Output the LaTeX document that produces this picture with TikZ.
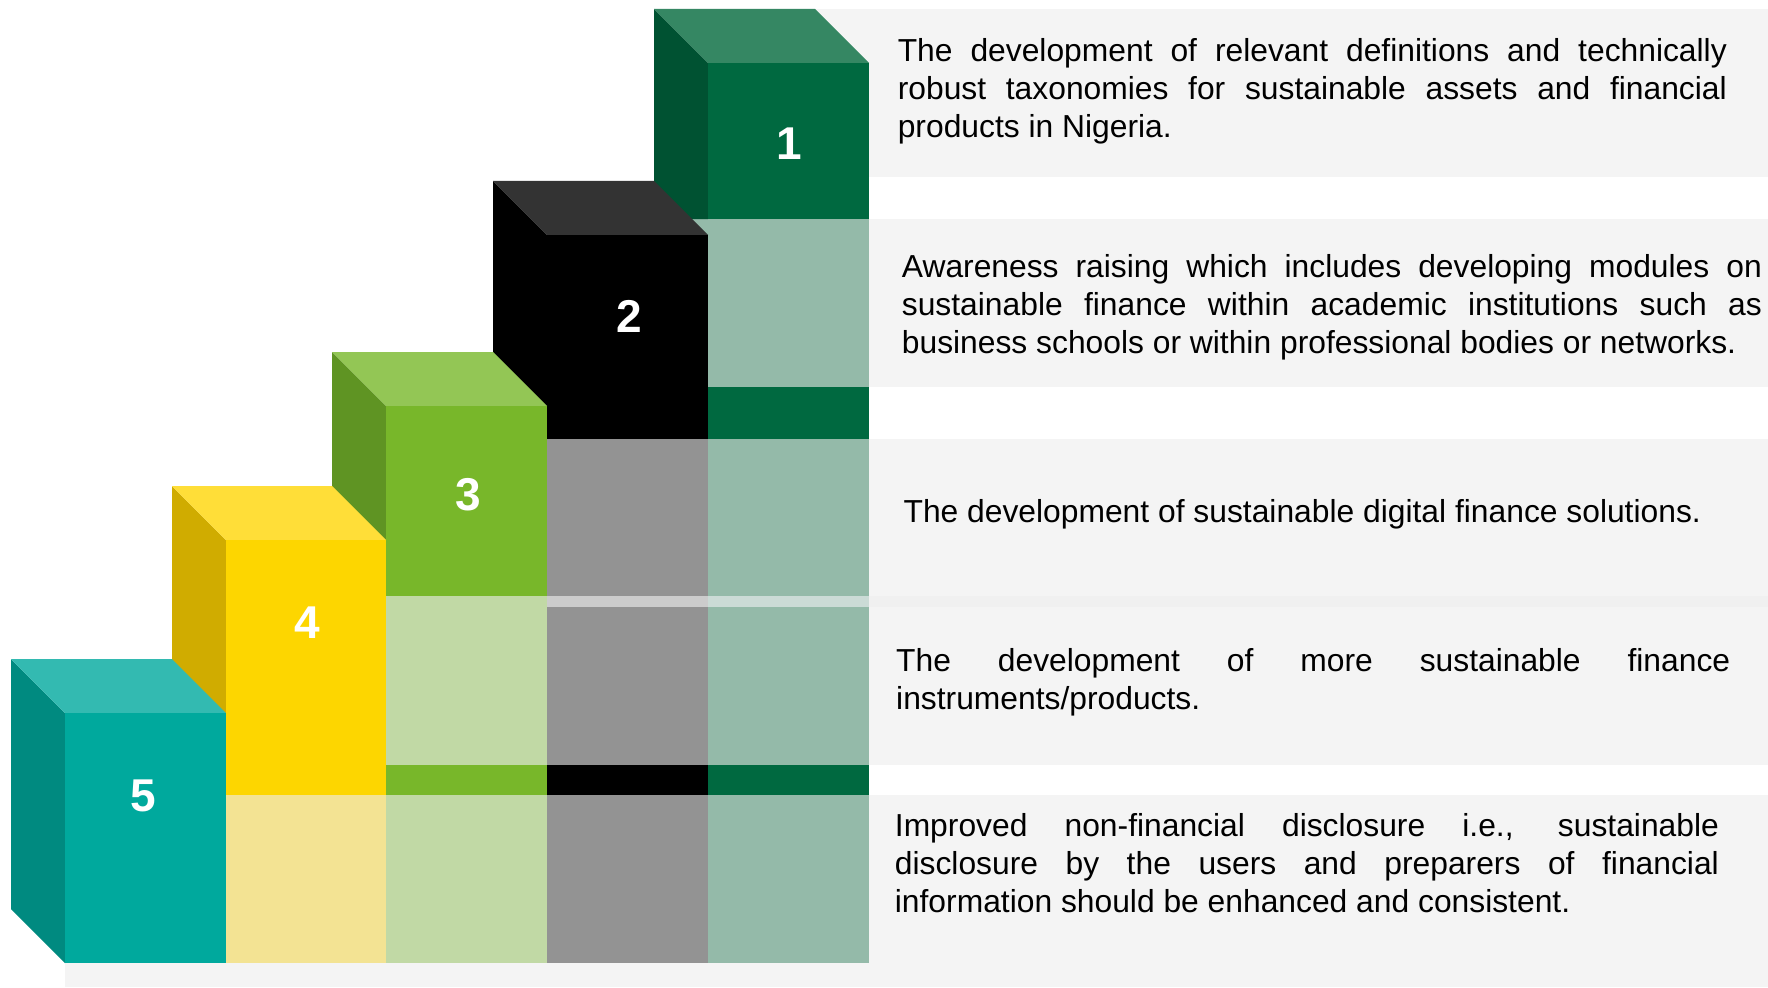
\documentclass[tikz,border=0pt]{standalone}
\usepackage{fontspec}
\setmainfont{Liberation Sans}

% face colours of the five steps
\definecolor{oneFront}{HTML}{006940}
\definecolor{oneTop}{HTML}{358763}
\definecolor{oneSide}{HTML}{005232}
\definecolor{oneLight}{HTML}{94BAA9}
\definecolor{oneBand}{HTML}{CBDBD6}
\definecolor{twoTop}{HTML}{333333}
\definecolor{twoLight}{HTML}{939393}
\definecolor{twoBand}{HTML}{CCCCCC}
\definecolor{threeFront}{HTML}{78B72A}
\definecolor{threeTop}{HTML}{93C655}
\definecolor{threeSide}{HTML}{5F9423}
\definecolor{threeLight}{HTML}{C1D9A5}
\definecolor{fourFront}{HTML}{FDD600}
\definecolor{fourTop}{HTML}{FFDE38}
\definecolor{fourSide}{HTML}{D0AC00}
\definecolor{fourLight}{HTML}{F3E393}
\definecolor{fiveFront}{HTML}{00A99D}
\definecolor{fiveTop}{HTML}{33BAB1}
\definecolor{fiveSide}{HTML}{008A80}
\definecolor{panelGrey}{HTML}{F4F4F4}
\definecolor{panelBand}{HTML}{F0F0F0}

\newcommand{\fullline}[1]{\makebox[\linewidth][s]{#1}\par}
\newcommand{\descfont}{\fontsize{31.8}{38}\selectfont}

\begin{document}
\begin{tikzpicture}[x=1pt,y=-1pt,
  face/.style={fill=#1,draw=none},
  num/.style={text=white,font=\fontsize{46}{46}\selectfont\bfseries,inner sep=0pt,anchor=center},
  desc/.style={inner sep=0pt,anchor=base west,text=black,font=\descfont},
]
\useasboundingbox (0,0) rectangle (1768,987);
\fill[white] (0,0) rectangle (1768,987);

% text panels
\fill[face=panelGrey] (700,9) rectangle (1768,177);
\fill[face=panelGrey] (869,219) rectangle (1768,387);
\fill[face=panelGrey] (869,439) rectangle (1768,765);
\fill[face=panelBand] (869,596) rectangle (1768,607);
\fill[face=panelGrey] (65,795) rectangle (1768,987);

% step 1
\fill[face=oneLight] (654,219) rectangle (708,320);
\fill[face=oneSide] (654,9) -- (708,63) -- (708,219) -- (654,219) -- cycle;
\fill[face=oneTop] (654,9) -- (815,9) -- (869,63) -- (708,63) -- cycle;
\fill[face=oneFront] (708,63) rectangle (869,219);
\fill[face=oneLight] (708,219) rectangle (869,963);
\fill[face=oneFront] (708,387) rectangle (869,439);
\fill[face=oneBand] (708,596) rectangle (869,607);
\fill[face=oneFront] (708,765) rectangle (869,795);

% step 2
\fill[face=black] (493,181) -- (547,235) -- (547,450) -- (493,450) -- cycle;
\fill[face=twoTop] (493,181) -- (654,181) -- (708,235) -- (547,235) -- cycle;
\fill[face=black] (547,235) rectangle (708,439);
\fill[face=twoLight] (547,439) rectangle (708,963);
\fill[face=twoBand] (547,596) rectangle (708,607);
\fill[face=black] (547,765) rectangle (708,795);

% step 3
\fill[face=threeSide] (332,352) -- (386,406) -- (386,600) -- (332,600) -- cycle;
\fill[face=threeTop] (332,352) -- (493,352) -- (547,406) -- (386,406) -- cycle;
\fill[face=threeFront] (386,406) rectangle (547,596);
\fill[face=threeLight] (386,596) rectangle (547,963);
\fill[face=threeFront] (386,765) rectangle (547,795);

% step 4
\fill[face=fourSide] (172,486) -- (226,540) -- (226,760) -- (172,760) -- cycle;
\fill[face=fourTop] (172,486) -- (332,486) -- (386,540) -- (226,540) -- cycle;
\fill[face=fourFront] (226,540) rectangle (386,795);
\fill[face=fourLight] (226,795) rectangle (386,963);

% step 5
\fill[face=fiveSide] (11,659) -- (65,713) -- (65,963) -- (11,909) -- cycle;
\fill[face=fiveTop] (11,659) -- (172,659) -- (226,713) -- (65,713) -- cycle;
\fill[face=fiveFront] (65,713) rectangle (226,963);

% step numbers
\node[num] (n1) at (789,143.3) {1};
\node[num] (n2) at (629,316) {2};
\node[num] (n3) at (468.4,495) {3};
\node[num] (n4) at (307.7,622.8) {4};
\node[num] (n5) at (143,795.8) {5};

% descriptions
\node[desc] (t1) at (897.6,61.7) {\parbox[t]{829pt}{\descfont
  \fullline{The development of relevant definitions and technically}
  \fullline{robust taxonomies for sustainable assets and financial}
  products in Nigeria.}};
\node[desc] (t2) at (901.7,277.3) {\parbox[t]{860pt}{\descfont
  \fullline{Awareness raising which includes developing modules on}
  \fullline{sustainable finance within academic institutions such as}
  business schools or within professional bodies or networks.}};
\node[desc] (t3) at (903.4,522) {The development of sustainable digital finance solutions.};
\node[desc] (t4) at (896,671) {\parbox[t]{834pt}{\descfont
  \fullline{The development of more sustainable finance}
  instruments/products.}};
\node[desc] (t5) at (894.7,836) {\parbox[t]{824pt}{\descfont
  \fullline{Improved non-financial disclosure i.e., sustainable}
  \fullline{disclosure by the users and preparers of financial}
  information should be enhanced and consistent.}};
\end{tikzpicture}
\end{document}
